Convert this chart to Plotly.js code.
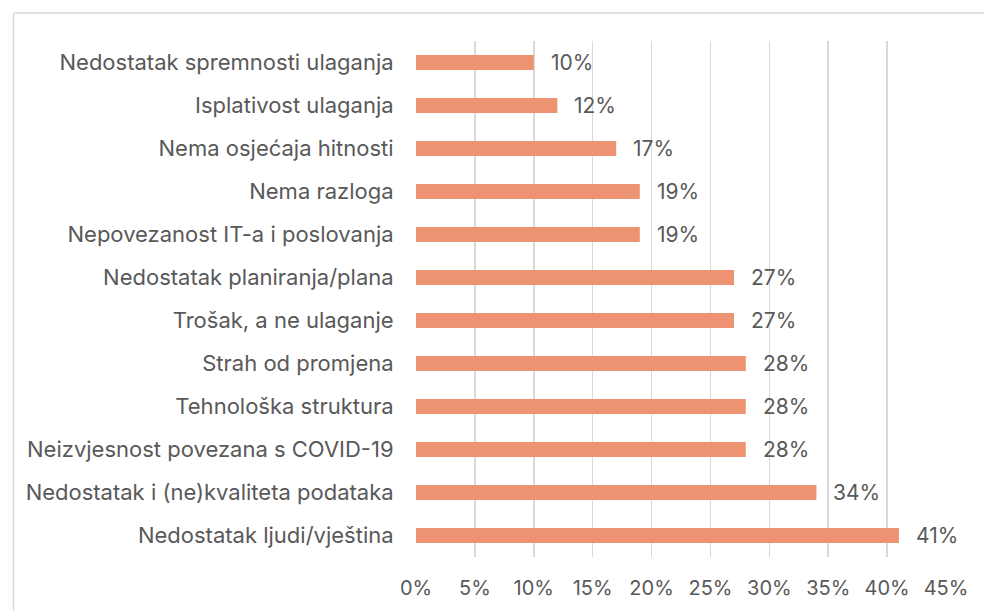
<!DOCTYPE html>
<html>
<head>
<meta charset="utf-8">
<script src="https://cdn.plot.ly/plotly-3.0.1.min.js"></script>
<style>
html,body{margin:0;padding:0;background:#fff;}
#chart{width:984px;height:611px;}
</style>
</head>
<body>
<div id="chart"></div>
<script>
const categories = [
  "Nedostatak spremnosti ulaganja",
  "Isplativost ulaganja",
  "Nema osjećaja hitnosti",
  "Nema razloga",
  "Nepovezanost IT-a i poslovanja",
  "Nedostatak planiranja/plana",
  "Trošak, a ne ulaganje",
  "Strah od promjena",
  "Tehnološka struktura",
  "Neizvjesnost povezana s COVID-19",
  "Nedostatak i (ne)kvaliteta podataka",
  "Nedostatak ljudi/vještina"
];
const values = [0.10, 0.12, 0.17, 0.19, 0.19, 0.27, 0.27, 0.28, 0.28, 0.28, 0.34, 0.41];
const tickValues = [0, 0.05, 0.10, 0.15, 0.20, 0.25, 0.30, 0.35, 0.40, 0.45];
const tickLabels = ["0%", "5%", "10%", "15%", "20%", "25%", "30%", "35%", "40%", "45%"];

const fontFamily = "Inter, 'Open Sans', 'Liberation Sans', sans-serif";
const textColor = "#595959";

const trace = {
  type: "bar",
  orientation: "h",
  y: categories,
  x: values,
  marker: {color: "#EE9372"},
  hoverinfo: "none"
};

const annotations = categories.map((c, i) => ({
  x: values[i],
  y: c,
  xref: "x",
  yref: "y",
  text: Math.round(values[i] * 100) + "%",
  showarrow: false,
  xanchor: "left",
  yanchor: "middle",
  xshift: 15,
  font: {family: fontFamily, size: 21, color: textColor}
}));

const layout = {
  width: 984,
  height: 611,
  margin: {l: 416, r: 38, t: 40.5, b: 53.5},
  paper_bgcolor: "#ffffff",
  plot_bgcolor: "#ffffff",
  bargap: 0.65,
  showlegend: false,
  font: {family: fontFamily, size: 20, color: textColor},
  xaxis: {
    range: [0, 0.45],
    tickvals: tickValues,
    ticktext: tickLabels,
    showgrid: true,
    gridcolor: "#d9d9d9",
    gridwidth: 1.5,
    zeroline: false,
    showline: false,
    ticks: "outside",
    ticklen: 13,
    tickcolor: "rgba(0,0,0,0)",
    tickfont: {family: fontFamily, size: 20, color: textColor},
    fixedrange: true
  },
  yaxis: {
    type: "category",
    autorange: "reversed",
    showgrid: false,
    zeroline: false,
    showline: false,
    ticks: "outside",
    ticklen: 17,
    tickcolor: "rgba(0,0,0,0)",
    tickfont: {family: fontFamily, size: 22, color: textColor},
    fixedrange: true
  },
  annotations: annotations,
  shapes: [
    {type: "line", xref: "paper", yref: "paper", x0: -0.7595, x1: 1.2, y0: 1.0542, y1: 1.0542,
     line: {color: "#d9d9d9", width: 1.5}},
    {type: "line", xref: "paper", yref: "paper", x0: -0.7595, x1: -0.7595, y0: 1.0542, y1: -0.2,
     line: {color: "#d9d9d9", width: 1.5}}
  ]
};

Plotly.newPlot("chart", [trace], layout, {displayModeBar: false, staticPlot: true});
</script>
</body>
</html>
